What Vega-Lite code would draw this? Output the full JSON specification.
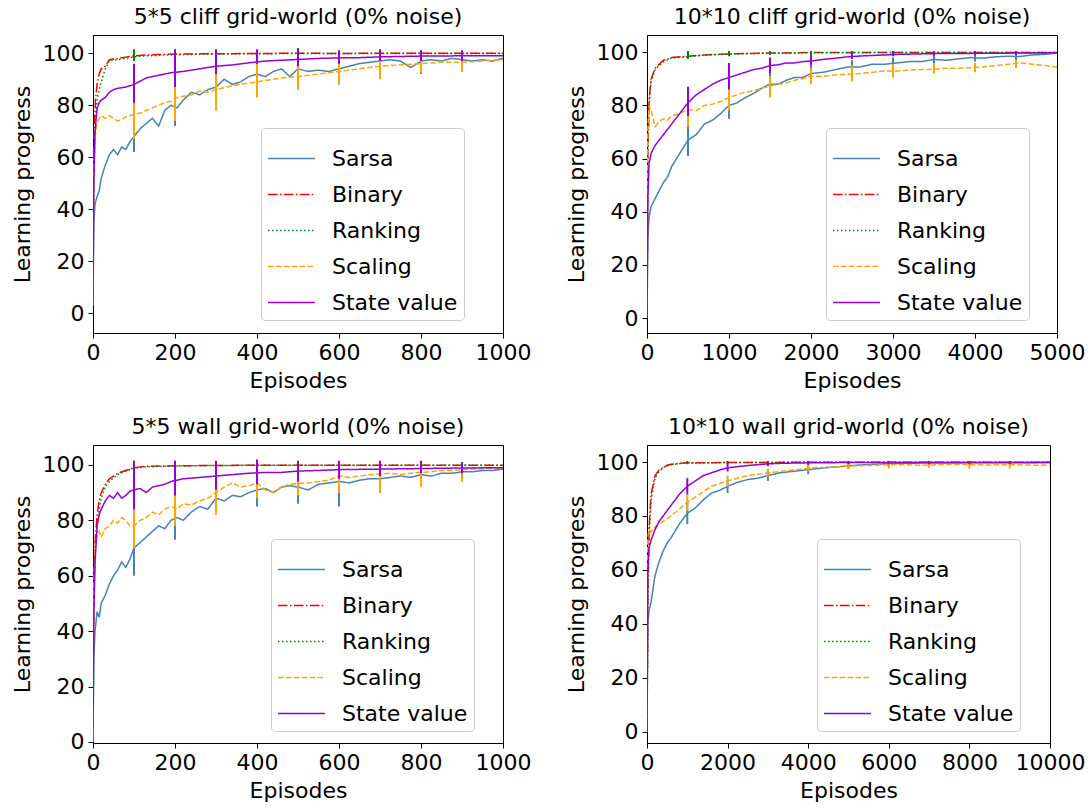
{
"$schema": "https://vega.github.io/schema/vega-lite/v6.json",
"padding": {"left": 10, "top": 5, "right": 5, "bottom": 5},
"config": {
  "font": "DejaVu Sans",
  "view": {"stroke": "black", "strokeWidth": 1},
  "axis": {"grid": false, "labelFontSize": 22, "titleFontSize": 22, "titleFontWeight": "normal", "labelColor": "black", "titleColor": "black", "tickColor": "black", "domainColor": "black", "tickSize": 5, "labelPadding": 4, "labelFlush": false, "labelOverlap": false, "labelFont": "DejaVu Sans", "titleFont": "DejaVu Sans"},
  "axisX": {"titlePadding": 7, "labelPadding": 4},
  "axisY": {"titlePadding": 8},
  "legend": {"symbolType": "stroke", "symbolSize": 2209, "symbolStrokeWidth": 1.5, "labelFontSize": 22, "labelFont": "DejaVu Sans", "labelColor": "black", "rowPadding": 0, "padding": 6, "fillColor": "rgba(255,255,255,0.8)", "strokeColor": "#cccccc", "cornerRadius": 4, "labelOffset": 16},
  "title": {"fontSize": 22, "fontWeight": "normal", "font": "DejaVu Sans", "color": "black", "offset": 6}
},
"datasets": {
"a": [
{"s":"Sarsa","x":0,"y":3},{"s":"Sarsa","x":2,"y":35},{"s":"Sarsa","x":5,"y":42},{"s":"Sarsa","x":10,"y":45},{"s":"Sarsa","x":15,"y":47},{"s":"Sarsa","x":20,"y":52},{"s":"Sarsa","x":30,"y":57},{"s":"Sarsa","x":40,"y":61},{"s":"Sarsa","x":50,"y":63},{"s":"Sarsa","x":60,"y":61},{"s":"Sarsa","x":70,"y":64},{"s":"Sarsa","x":80,"y":63},{"s":"Sarsa","x":90,"y":66},{"s":"Sarsa","x":100,"y":68},{"s":"Sarsa","x":115,"y":71},{"s":"Sarsa","x":130,"y":73},{"s":"Sarsa","x":145,"y":75},{"s":"Sarsa","x":160,"y":72},{"s":"Sarsa","x":175,"y":78},{"s":"Sarsa","x":190,"y":80},{"s":"Sarsa","x":205,"y":79},{"s":"Sarsa","x":220,"y":82},{"s":"Sarsa","x":240,"y":85},{"s":"Sarsa","x":260,"y":84},{"s":"Sarsa","x":280,"y":86},{"s":"Sarsa","x":300,"y":87},{"s":"Sarsa","x":320,"y":90},{"s":"Sarsa","x":340,"y":88},{"s":"Sarsa","x":360,"y":89},{"s":"Sarsa","x":380,"y":91},{"s":"Sarsa","x":400,"y":92},{"s":"Sarsa","x":420,"y":91},{"s":"Sarsa","x":440,"y":93},{"s":"Sarsa","x":460,"y":94},{"s":"Sarsa","x":480,"y":91},{"s":"Sarsa","x":500,"y":94},{"s":"Sarsa","x":525,"y":93},{"s":"Sarsa","x":550,"y":93.5},{"s":"Sarsa","x":575,"y":93},{"s":"Sarsa","x":600,"y":94},{"s":"Sarsa","x":625,"y":95},{"s":"Sarsa","x":650,"y":96},{"s":"Sarsa","x":675,"y":96.5},{"s":"Sarsa","x":700,"y":97},{"s":"Sarsa","x":725,"y":97.5},{"s":"Sarsa","x":750,"y":97},{"s":"Sarsa","x":775,"y":94.5},{"s":"Sarsa","x":800,"y":97},{"s":"Sarsa","x":825,"y":97.5},{"s":"Sarsa","x":850,"y":97},{"s":"Sarsa","x":875,"y":98},{"s":"Sarsa","x":900,"y":97.5},{"s":"Sarsa","x":925,"y":97},{"s":"Sarsa","x":950,"y":97.5},{"s":"Sarsa","x":975,"y":97},{"s":"Sarsa","x":1000,"y":98},
{"s":"Binary","x":0,"y":30},{"s":"Binary","x":3,"y":70},{"s":"Binary","x":6,"y":82},{"s":"Binary","x":10,"y":88},{"s":"Binary","x":15,"y":92},{"s":"Binary","x":20,"y":94},{"s":"Binary","x":30,"y":95},{"s":"Binary","x":40,"y":97.5},{"s":"Binary","x":60,"y":98},{"s":"Binary","x":80,"y":98.5},{"s":"Binary","x":100,"y":99},{"s":"Binary","x":130,"y":99.3},{"s":"Binary","x":160,"y":99.5},{"s":"Binary","x":200,"y":99.7},{"s":"Binary","x":300,"y":99.8},{"s":"Binary","x":400,"y":99.9},{"s":"Binary","x":500,"y":100},{"s":"Binary","x":600,"y":99.9},{"s":"Binary","x":700,"y":100},{"s":"Binary","x":800,"y":100},{"s":"Binary","x":900,"y":100},{"s":"Binary","x":1000,"y":100},
{"s":"Ranking","x":0,"y":25},{"s":"Ranking","x":3,"y":60},{"s":"Ranking","x":6,"y":75},{"s":"Ranking","x":10,"y":82},{"s":"Ranking","x":15,"y":86},{"s":"Ranking","x":20,"y":89},{"s":"Ranking","x":30,"y":94},{"s":"Ranking","x":40,"y":97.3},{"s":"Ranking","x":60,"y":97.5},{"s":"Ranking","x":80,"y":98},{"s":"Ranking","x":100,"y":98.6},{"s":"Ranking","x":130,"y":99},{"s":"Ranking","x":160,"y":99.2},{"s":"Ranking","x":200,"y":99.4},{"s":"Ranking","x":300,"y":99.7},{"s":"Ranking","x":400,"y":99.8},{"s":"Ranking","x":500,"y":99.9},{"s":"Ranking","x":700,"y":99.9},{"s":"Ranking","x":1000,"y":99.9},
{"s":"Scaling","x":0,"y":10},{"s":"Scaling","x":2,"y":55},{"s":"Scaling","x":5,"y":68},{"s":"Scaling","x":10,"y":73},{"s":"Scaling","x":15,"y":75},{"s":"Scaling","x":20,"y":76},{"s":"Scaling","x":30,"y":75},{"s":"Scaling","x":40,"y":76},{"s":"Scaling","x":50,"y":75},{"s":"Scaling","x":60,"y":74},{"s":"Scaling","x":70,"y":74.5},{"s":"Scaling","x":80,"y":75.5},{"s":"Scaling","x":90,"y":76},{"s":"Scaling","x":100,"y":76.5},{"s":"Scaling","x":115,"y":77},{"s":"Scaling","x":130,"y":78},{"s":"Scaling","x":145,"y":79},{"s":"Scaling","x":160,"y":80},{"s":"Scaling","x":175,"y":81},{"s":"Scaling","x":190,"y":81.5},{"s":"Scaling","x":205,"y":83},{"s":"Scaling","x":220,"y":83.5},{"s":"Scaling","x":240,"y":84},{"s":"Scaling","x":260,"y":85.5},{"s":"Scaling","x":280,"y":85},{"s":"Scaling","x":300,"y":86},{"s":"Scaling","x":340,"y":87.5},{"s":"Scaling","x":380,"y":88.5},{"s":"Scaling","x":420,"y":89.5},{"s":"Scaling","x":460,"y":90.5},{"s":"Scaling","x":500,"y":91},{"s":"Scaling","x":550,"y":92},{"s":"Scaling","x":600,"y":93},{"s":"Scaling","x":650,"y":94},{"s":"Scaling","x":700,"y":95},{"s":"Scaling","x":750,"y":95.5},{"s":"Scaling","x":800,"y":96},{"s":"Scaling","x":850,"y":96.5},{"s":"Scaling","x":900,"y":96.5},{"s":"Scaling","x":950,"y":97},{"s":"Scaling","x":1000,"y":97.5},
{"s":"State value","x":0,"y":5},{"s":"State value","x":2,"y":50},{"s":"State value","x":5,"y":70},{"s":"State value","x":10,"y":79},{"s":"State value","x":15,"y":81},{"s":"State value","x":20,"y":82},{"s":"State value","x":30,"y":83},{"s":"State value","x":40,"y":85},{"s":"State value","x":50,"y":86},{"s":"State value","x":60,"y":86.5},{"s":"State value","x":80,"y":87},{"s":"State value","x":100,"y":88},{"s":"State value","x":130,"y":90.5},{"s":"State value","x":160,"y":91.5},{"s":"State value","x":190,"y":92.5},{"s":"State value","x":220,"y":93},{"s":"State value","x":260,"y":94},{"s":"State value","x":300,"y":95},{"s":"State value","x":340,"y":95.5},{"s":"State value","x":380,"y":96.3},{"s":"State value","x":420,"y":97},{"s":"State value","x":460,"y":97.3},{"s":"State value","x":500,"y":97.6},{"s":"State value","x":550,"y":98},{"s":"State value","x":600,"y":98.2},{"s":"State value","x":650,"y":98.3},{"s":"State value","x":700,"y":98.6},{"s":"State value","x":800,"y":98.9},{"s":"State value","x":900,"y":99},{"s":"State value","x":1000,"y":99}
],
"ea": [
{"s":"Sarsa","x":100,"lo":62,"hi":76},{"s":"Sarsa","x":200,"lo":72,"hi":88},{"s":"Sarsa","x":300,"lo":80,"hi":94},{"s":"Sarsa","x":400,"lo":84,"hi":98},{"s":"Sarsa","x":500,"lo":88,"hi":99},{"s":"Sarsa","x":600,"lo":88,"hi":99},{"s":"Sarsa","x":700,"lo":92,"hi":100},{"s":"Sarsa","x":800,"lo":92,"hi":101},{"s":"Sarsa","x":900,"lo":93,"hi":100},
{"s":"Binary","x":100,"lo":98,"hi":100},{"s":"Binary","x":200,"lo":99,"hi":100.5},{"s":"Binary","x":300,"lo":99,"hi":100.5},{"s":"Binary","x":400,"lo":99,"hi":100.5},{"s":"Binary","x":500,"lo":99,"hi":100.5},{"s":"Binary","x":600,"lo":99,"hi":100.5},{"s":"Binary","x":700,"lo":99,"hi":100.5},{"s":"Binary","x":800,"lo":99,"hi":100.5},{"s":"Binary","x":900,"lo":99,"hi":100.5},
{"s":"Ranking","x":100,"lo":97,"hi":101.5},{"s":"Ranking","x":200,"lo":98,"hi":101},{"s":"Ranking","x":300,"lo":98.5,"hi":101},{"s":"Ranking","x":400,"lo":98.5,"hi":101},{"s":"Ranking","x":500,"lo":98.5,"hi":102},{"s":"Ranking","x":600,"lo":99,"hi":101},{"s":"Ranking","x":700,"lo":99,"hi":101},{"s":"Ranking","x":800,"lo":99,"hi":101},{"s":"Ranking","x":900,"lo":99,"hi":101},
{"s":"Scaling","x":100,"lo":67,"hi":82},{"s":"Scaling","x":200,"lo":74,"hi":87},{"s":"Scaling","x":300,"lo":78,"hi":92},{"s":"Scaling","x":400,"lo":83,"hi":96},{"s":"Scaling","x":500,"lo":86,"hi":96},{"s":"Scaling","x":600,"lo":88,"hi":98},{"s":"Scaling","x":700,"lo":90,"hi":99},{"s":"Scaling","x":800,"lo":92.5,"hi":99.5},{"s":"Scaling","x":900,"lo":93,"hi":100},
{"s":"State value","x":100,"lo":81,"hi":96},{"s":"State value","x":200,"lo":87,"hi":101.5},{"s":"State value","x":300,"lo":92,"hi":101.5},{"s":"State value","x":400,"lo":96,"hi":101.5},{"s":"State value","x":500,"lo":95,"hi":101.5},{"s":"State value","x":600,"lo":96,"hi":101},{"s":"State value","x":700,"lo":97,"hi":101.5},{"s":"State value","x":800,"lo":97,"hi":101},{"s":"State value","x":900,"lo":97,"hi":101}
],
"b": [
{"s":"Sarsa","x":0,"y":0},{"s":"Sarsa","x":10,"y":30},{"s":"Sarsa","x":25,"y":38},{"s":"Sarsa","x":50,"y":42},{"s":"Sarsa","x":100,"y":45},{"s":"Sarsa","x":150,"y":48},{"s":"Sarsa","x":200,"y":51},{"s":"Sarsa","x":250,"y":53},{"s":"Sarsa","x":300,"y":57},{"s":"Sarsa","x":400,"y":62},{"s":"Sarsa","x":500,"y":67},{"s":"Sarsa","x":600,"y":69},{"s":"Sarsa","x":700,"y":73},{"s":"Sarsa","x":800,"y":74.5},{"s":"Sarsa","x":900,"y":77},{"s":"Sarsa","x":1000,"y":80},{"s":"Sarsa","x":1100,"y":81},{"s":"Sarsa","x":1200,"y":83},{"s":"Sarsa","x":1300,"y":84.5},{"s":"Sarsa","x":1400,"y":86.5},{"s":"Sarsa","x":1500,"y":88},{"s":"Sarsa","x":1600,"y":88},{"s":"Sarsa","x":1700,"y":89.5},{"s":"Sarsa","x":1800,"y":90.5},{"s":"Sarsa","x":1900,"y":90.5},{"s":"Sarsa","x":2000,"y":92},{"s":"Sarsa","x":2150,"y":92.5},{"s":"Sarsa","x":2300,"y":93.5},{"s":"Sarsa","x":2450,"y":94.5},{"s":"Sarsa","x":2600,"y":94.5},{"s":"Sarsa","x":2750,"y":95.5},{"s":"Sarsa","x":2900,"y":95.5},{"s":"Sarsa","x":3050,"y":96},{"s":"Sarsa","x":3200,"y":96.5},{"s":"Sarsa","x":3350,"y":96.5},{"s":"Sarsa","x":3500,"y":97.3},{"s":"Sarsa","x":3650,"y":97},{"s":"Sarsa","x":3800,"y":97.5},{"s":"Sarsa","x":3950,"y":98},{"s":"Sarsa","x":4100,"y":97.8},{"s":"Sarsa","x":4250,"y":98.3},{"s":"Sarsa","x":4400,"y":98.5},{"s":"Sarsa","x":4550,"y":98.4},{"s":"Sarsa","x":4700,"y":99},{"s":"Sarsa","x":4850,"y":99.2},{"s":"Sarsa","x":5000,"y":99.7},
{"s":"Binary","x":0,"y":0},{"s":"Binary","x":10,"y":60},{"s":"Binary","x":25,"y":82},{"s":"Binary","x":50,"y":90},{"s":"Binary","x":100,"y":94},{"s":"Binary","x":200,"y":97},{"s":"Binary","x":300,"y":98},{"s":"Binary","x":500,"y":98.5},{"s":"Binary","x":700,"y":99},{"s":"Binary","x":1000,"y":99.4},{"s":"Binary","x":1500,"y":99.7},{"s":"Binary","x":2000,"y":99.9},{"s":"Binary","x":3000,"y":99.9},{"s":"Binary","x":4000,"y":99.9},{"s":"Binary","x":5000,"y":99.9},
{"s":"Ranking","x":0,"y":0},{"s":"Ranking","x":10,"y":58},{"s":"Ranking","x":25,"y":80},{"s":"Ranking","x":50,"y":89},{"s":"Ranking","x":100,"y":93.5},{"s":"Ranking","x":200,"y":96.5},{"s":"Ranking","x":300,"y":97.8},{"s":"Ranking","x":500,"y":98.3},{"s":"Ranking","x":700,"y":98.9},{"s":"Ranking","x":1000,"y":99.3},{"s":"Ranking","x":1500,"y":99.7},{"s":"Ranking","x":2000,"y":99.8},{"s":"Ranking","x":3000,"y":99.9},{"s":"Ranking","x":4000,"y":99.9},{"s":"Ranking","x":5000,"y":99.9},
{"s":"Scaling","x":0,"y":5},{"s":"Scaling","x":10,"y":70},{"s":"Scaling","x":25,"y":80},{"s":"Scaling","x":50,"y":78},{"s":"Scaling","x":100,"y":72},{"s":"Scaling","x":150,"y":74},{"s":"Scaling","x":200,"y":75},{"s":"Scaling","x":250,"y":74.5},{"s":"Scaling","x":300,"y":76},{"s":"Scaling","x":400,"y":77},{"s":"Scaling","x":500,"y":78.5},{"s":"Scaling","x":600,"y":78},{"s":"Scaling","x":700,"y":80},{"s":"Scaling","x":800,"y":80.5},{"s":"Scaling","x":900,"y":81.5},{"s":"Scaling","x":1000,"y":83},{"s":"Scaling","x":1100,"y":84},{"s":"Scaling","x":1200,"y":85},{"s":"Scaling","x":1300,"y":85.5},{"s":"Scaling","x":1400,"y":86.5},{"s":"Scaling","x":1500,"y":87.3},{"s":"Scaling","x":1600,"y":88},{"s":"Scaling","x":1700,"y":88.5},{"s":"Scaling","x":1800,"y":89.5},{"s":"Scaling","x":1900,"y":90},{"s":"Scaling","x":2000,"y":91},{"s":"Scaling","x":2150,"y":91},{"s":"Scaling","x":2300,"y":91.5},{"s":"Scaling","x":2450,"y":91.7},{"s":"Scaling","x":2600,"y":92},{"s":"Scaling","x":2750,"y":92.5},{"s":"Scaling","x":2900,"y":93},{"s":"Scaling","x":3050,"y":93},{"s":"Scaling","x":3200,"y":93.3},{"s":"Scaling","x":3350,"y":93.5},{"s":"Scaling","x":3500,"y":93.6},{"s":"Scaling","x":3650,"y":94},{"s":"Scaling","x":3800,"y":94},{"s":"Scaling","x":3950,"y":94.2},{"s":"Scaling","x":4100,"y":94.5},{"s":"Scaling","x":4250,"y":95},{"s":"Scaling","x":4400,"y":95.5},{"s":"Scaling","x":4550,"y":96},{"s":"Scaling","x":4700,"y":95.5},{"s":"Scaling","x":4850,"y":95},{"s":"Scaling","x":5000,"y":94.5},
{"s":"State value","x":0,"y":0},{"s":"State value","x":10,"y":45},{"s":"State value","x":25,"y":58},{"s":"State value","x":50,"y":62},{"s":"State value","x":100,"y":65},{"s":"State value","x":150,"y":67},{"s":"State value","x":200,"y":69},{"s":"State value","x":250,"y":71},{"s":"State value","x":300,"y":73},{"s":"State value","x":400,"y":77},{"s":"State value","x":500,"y":81},{"s":"State value","x":600,"y":84},{"s":"State value","x":700,"y":86},{"s":"State value","x":800,"y":88},{"s":"State value","x":900,"y":89.5},{"s":"State value","x":1000,"y":90.5},{"s":"State value","x":1100,"y":91.5},{"s":"State value","x":1200,"y":92.5},{"s":"State value","x":1300,"y":93.5},{"s":"State value","x":1400,"y":94},{"s":"State value","x":1500,"y":95},{"s":"State value","x":1600,"y":95.3},{"s":"State value","x":1700,"y":96},{"s":"State value","x":1800,"y":96},{"s":"State value","x":1900,"y":96.5},{"s":"State value","x":2000,"y":96.7},{"s":"State value","x":2150,"y":97.3},{"s":"State value","x":2300,"y":97.8},{"s":"State value","x":2450,"y":98.3},{"s":"State value","x":2600,"y":98.6},{"s":"State value","x":2750,"y":98.8},{"s":"State value","x":2900,"y":99},{"s":"State value","x":3050,"y":99.2},{"s":"State value","x":3200,"y":99.3},{"s":"State value","x":3500,"y":99.5},{"s":"State value","x":4000,"y":99.6},{"s":"State value","x":4500,"y":99.7},{"s":"State value","x":5000,"y":99.8}
],
"eb": [
{"s":"Sarsa","x":500,"lo":61,"hi":74},{"s":"Sarsa","x":1000,"lo":75,"hi":86},{"s":"Sarsa","x":1500,"lo":84,"hi":92},{"s":"Sarsa","x":2000,"lo":89,"hi":95},{"s":"Sarsa","x":2500,"lo":92,"hi":97},{"s":"Sarsa","x":3000,"lo":94,"hi":98},{"s":"Sarsa","x":3500,"lo":95.5,"hi":99},{"s":"Sarsa","x":4000,"lo":96.5,"hi":99.5},{"s":"Sarsa","x":4500,"lo":97,"hi":100},
{"s":"Binary","x":500,"lo":98,"hi":100.5},{"s":"Binary","x":1000,"lo":99,"hi":100.5},{"s":"Binary","x":1500,"lo":99,"hi":100.5},{"s":"Binary","x":2000,"lo":99,"hi":100.5},{"s":"Binary","x":2500,"lo":99,"hi":100.5},{"s":"Binary","x":3000,"lo":99,"hi":100.5},{"s":"Binary","x":3500,"lo":99,"hi":100.5},{"s":"Binary","x":4000,"lo":99,"hi":100.5},{"s":"Binary","x":4500,"lo":99,"hi":100.5},
{"s":"Ranking","x":500,"lo":97.5,"hi":100.5},{"s":"Ranking","x":1000,"lo":98.5,"hi":100.5},{"s":"Ranking","x":1500,"lo":99,"hi":100.5},{"s":"Ranking","x":2000,"lo":99.2,"hi":100.4},{"s":"Ranking","x":2500,"lo":99.2,"hi":100.4},{"s":"Ranking","x":3000,"lo":99.2,"hi":100.4},{"s":"Ranking","x":3500,"lo":99.2,"hi":100.4},{"s":"Ranking","x":4000,"lo":99.2,"hi":100.4},{"s":"Ranking","x":4500,"lo":99.2,"hi":100.4},
{"s":"Scaling","x":500,"lo":72,"hi":84},{"s":"Scaling","x":1000,"lo":78,"hi":88},{"s":"Scaling","x":1500,"lo":83,"hi":91},{"s":"Scaling","x":2000,"lo":88,"hi":94},{"s":"Scaling","x":2500,"lo":89,"hi":95},{"s":"Scaling","x":3000,"lo":90.5,"hi":95.5},{"s":"Scaling","x":3500,"lo":92,"hi":96},{"s":"Scaling","x":4000,"lo":92.5,"hi":96},{"s":"Scaling","x":4500,"lo":94,"hi":97},
{"s":"State value","x":500,"lo":76,"hi":87},{"s":"State value","x":1000,"lo":86,"hi":96},{"s":"State value","x":1500,"lo":92,"hi":98},{"s":"State value","x":2000,"lo":95,"hi":99},{"s":"State value","x":2500,"lo":97.5,"hi":100},{"s":"State value","x":3000,"lo":98.5,"hi":100.5},{"s":"State value","x":3500,"lo":98.8,"hi":100.3},{"s":"State value","x":4000,"lo":99,"hi":100.3},{"s":"State value","x":4500,"lo":99,"hi":100.3}
],
"c": [
{"s":"Sarsa","x":0,"y":0},{"s":"Sarsa","x":2,"y":30},{"s":"Sarsa","x":5,"y":40},{"s":"Sarsa","x":10,"y":47},{"s":"Sarsa","x":15,"y":45},{"s":"Sarsa","x":20,"y":50},{"s":"Sarsa","x":30,"y":53},{"s":"Sarsa","x":40,"y":57},{"s":"Sarsa","x":50,"y":60},{"s":"Sarsa","x":60,"y":62},{"s":"Sarsa","x":70,"y":65},{"s":"Sarsa","x":80,"y":63},{"s":"Sarsa","x":90,"y":66},{"s":"Sarsa","x":100,"y":70},{"s":"Sarsa","x":115,"y":72},{"s":"Sarsa","x":130,"y":74},{"s":"Sarsa","x":145,"y":76},{"s":"Sarsa","x":160,"y":78},{"s":"Sarsa","x":175,"y":77},{"s":"Sarsa","x":190,"y":80},{"s":"Sarsa","x":205,"y":81},{"s":"Sarsa","x":220,"y":80},{"s":"Sarsa","x":240,"y":83},{"s":"Sarsa","x":260,"y":85},{"s":"Sarsa","x":280,"y":84},{"s":"Sarsa","x":300,"y":88},{"s":"Sarsa","x":320,"y":87},{"s":"Sarsa","x":340,"y":89},{"s":"Sarsa","x":360,"y":88.5},{"s":"Sarsa","x":380,"y":90},{"s":"Sarsa","x":400,"y":91},{"s":"Sarsa","x":420,"y":91.5},{"s":"Sarsa","x":440,"y":90},{"s":"Sarsa","x":460,"y":92},{"s":"Sarsa","x":480,"y":92.5},{"s":"Sarsa","x":500,"y":92},{"s":"Sarsa","x":525,"y":91},{"s":"Sarsa","x":550,"y":93},{"s":"Sarsa","x":575,"y":93.5},{"s":"Sarsa","x":600,"y":94},{"s":"Sarsa","x":625,"y":93.5},{"s":"Sarsa","x":650,"y":94.5},{"s":"Sarsa","x":675,"y":95},{"s":"Sarsa","x":700,"y":95},{"s":"Sarsa","x":725,"y":95.5},{"s":"Sarsa","x":750,"y":96},{"s":"Sarsa","x":775,"y":95.5},{"s":"Sarsa","x":800,"y":96.5},{"s":"Sarsa","x":825,"y":96},{"s":"Sarsa","x":850,"y":97},{"s":"Sarsa","x":875,"y":97},{"s":"Sarsa","x":900,"y":97.5},{"s":"Sarsa","x":925,"y":97.5},{"s":"Sarsa","x":950,"y":98},{"s":"Sarsa","x":975,"y":98},{"s":"Sarsa","x":1000,"y":98.5},
{"s":"Binary","x":0,"y":20},{"s":"Binary","x":2,"y":55},{"s":"Binary","x":5,"y":72},{"s":"Binary","x":10,"y":82},{"s":"Binary","x":15,"y":87},{"s":"Binary","x":20,"y":90},{"s":"Binary","x":30,"y":93},{"s":"Binary","x":40,"y":95},{"s":"Binary","x":60,"y":97},{"s":"Binary","x":80,"y":98},{"s":"Binary","x":100,"y":99},{"s":"Binary","x":130,"y":99.5},{"s":"Binary","x":200,"y":99.7},{"s":"Binary","x":300,"y":99.8},{"s":"Binary","x":400,"y":99.9},{"s":"Binary","x":600,"y":99.9},{"s":"Binary","x":800,"y":99.9},{"s":"Binary","x":1000,"y":99.9},
{"s":"Ranking","x":0,"y":15},{"s":"Ranking","x":2,"y":50},{"s":"Ranking","x":5,"y":68},{"s":"Ranking","x":10,"y":78},{"s":"Ranking","x":15,"y":84},{"s":"Ranking","x":20,"y":88},{"s":"Ranking","x":30,"y":92},{"s":"Ranking","x":40,"y":94},{"s":"Ranking","x":60,"y":96.5},{"s":"Ranking","x":80,"y":97.8},{"s":"Ranking","x":100,"y":98.8},{"s":"Ranking","x":130,"y":99.3},{"s":"Ranking","x":200,"y":99.6},{"s":"Ranking","x":300,"y":99.8},{"s":"Ranking","x":400,"y":99.9},{"s":"Ranking","x":600,"y":99.9},{"s":"Ranking","x":800,"y":99.9},{"s":"Ranking","x":1000,"y":99.9},
{"s":"Scaling","x":0,"y":10},{"s":"Scaling","x":2,"y":55},{"s":"Scaling","x":5,"y":70},{"s":"Scaling","x":10,"y":75},{"s":"Scaling","x":15,"y":76},{"s":"Scaling","x":20,"y":74},{"s":"Scaling","x":30,"y":77},{"s":"Scaling","x":40,"y":78},{"s":"Scaling","x":50,"y":80},{"s":"Scaling","x":60,"y":79},{"s":"Scaling","x":70,"y":81},{"s":"Scaling","x":80,"y":80},{"s":"Scaling","x":90,"y":78},{"s":"Scaling","x":100,"y":78},{"s":"Scaling","x":115,"y":80},{"s":"Scaling","x":130,"y":81},{"s":"Scaling","x":145,"y":83},{"s":"Scaling","x":160,"y":82},{"s":"Scaling","x":175,"y":84},{"s":"Scaling","x":190,"y":85},{"s":"Scaling","x":205,"y":84},{"s":"Scaling","x":220,"y":86},{"s":"Scaling","x":240,"y":85.5},{"s":"Scaling","x":260,"y":87},{"s":"Scaling","x":280,"y":88},{"s":"Scaling","x":300,"y":90},{"s":"Scaling","x":320,"y":92},{"s":"Scaling","x":340,"y":93.5},{"s":"Scaling","x":360,"y":92},{"s":"Scaling","x":380,"y":92.5},{"s":"Scaling","x":400,"y":93.5},{"s":"Scaling","x":420,"y":91},{"s":"Scaling","x":440,"y":90},{"s":"Scaling","x":460,"y":92},{"s":"Scaling","x":480,"y":93},{"s":"Scaling","x":500,"y":93.3},{"s":"Scaling","x":525,"y":93.5},{"s":"Scaling","x":550,"y":94},{"s":"Scaling","x":575,"y":94.5},{"s":"Scaling","x":600,"y":96},{"s":"Scaling","x":625,"y":95.5},{"s":"Scaling","x":650,"y":96},{"s":"Scaling","x":675,"y":96.5},{"s":"Scaling","x":700,"y":96.7},{"s":"Scaling","x":725,"y":97},{"s":"Scaling","x":750,"y":96.5},{"s":"Scaling","x":775,"y":97},{"s":"Scaling","x":800,"y":97.3},{"s":"Scaling","x":825,"y":97.5},{"s":"Scaling","x":850,"y":98},{"s":"Scaling","x":875,"y":98},{"s":"Scaling","x":900,"y":98.3},{"s":"Scaling","x":925,"y":98.5},{"s":"Scaling","x":950,"y":98.5},{"s":"Scaling","x":975,"y":98.8},{"s":"Scaling","x":1000,"y":99},
{"s":"State value","x":0,"y":5},{"s":"State value","x":2,"y":45},{"s":"State value","x":5,"y":65},{"s":"State value","x":10,"y":78},{"s":"State value","x":15,"y":82},{"s":"State value","x":20,"y":84},{"s":"State value","x":30,"y":87},{"s":"State value","x":40,"y":89},{"s":"State value","x":50,"y":88},{"s":"State value","x":60,"y":90},{"s":"State value","x":70,"y":88},{"s":"State value","x":80,"y":89},{"s":"State value","x":90,"y":90.5},{"s":"State value","x":100,"y":91},{"s":"State value","x":115,"y":91.5},{"s":"State value","x":130,"y":90},{"s":"State value","x":145,"y":92},{"s":"State value","x":160,"y":92.5},{"s":"State value","x":175,"y":93},{"s":"State value","x":190,"y":94},{"s":"State value","x":220,"y":95},{"s":"State value","x":260,"y":95.5},{"s":"State value","x":300,"y":96},{"s":"State value","x":340,"y":96.5},{"s":"State value","x":380,"y":97},{"s":"State value","x":420,"y":97.3},{"s":"State value","x":460,"y":97.3},{"s":"State value","x":500,"y":97.8},{"s":"State value","x":550,"y":98},{"s":"State value","x":600,"y":98.3},{"s":"State value","x":700,"y":98.5},{"s":"State value","x":800,"y":98.7},{"s":"State value","x":900,"y":98.9},{"s":"State value","x":1000,"y":99}
],
"ec": [
{"s":"Sarsa","x":100,"lo":60,"hi":78},{"s":"Sarsa","x":200,"lo":73,"hi":88},{"s":"Sarsa","x":300,"lo":82,"hi":94},{"s":"Sarsa","x":400,"lo":85,"hi":97},{"s":"Sarsa","x":500,"lo":86,"hi":98},{"s":"Sarsa","x":600,"lo":85,"hi":99},{"s":"Sarsa","x":700,"lo":90,"hi":99},{"s":"Sarsa","x":800,"lo":92,"hi":100},{"s":"Sarsa","x":900,"lo":94,"hi":100},
{"s":"Binary","x":100,"lo":98,"hi":100.5},{"s":"Binary","x":200,"lo":99,"hi":100.5},{"s":"Binary","x":300,"lo":99,"hi":100.5},{"s":"Binary","x":400,"lo":99,"hi":100.5},{"s":"Binary","x":500,"lo":99,"hi":100.5},{"s":"Binary","x":600,"lo":99,"hi":100.5},{"s":"Binary","x":700,"lo":99,"hi":100.5},{"s":"Binary","x":800,"lo":99,"hi":100.5},{"s":"Binary","x":900,"lo":99,"hi":100.5},
{"s":"Ranking","x":100,"lo":97,"hi":101.5},{"s":"Ranking","x":200,"lo":98,"hi":101.5},{"s":"Ranking","x":300,"lo":99,"hi":101},{"s":"Ranking","x":400,"lo":99,"hi":101},{"s":"Ranking","x":500,"lo":99,"hi":101},{"s":"Ranking","x":600,"lo":99,"hi":101},{"s":"Ranking","x":700,"lo":99,"hi":101},{"s":"Ranking","x":800,"lo":99,"hi":101},{"s":"Ranking","x":900,"lo":99,"hi":101},
{"s":"Scaling","x":100,"lo":70,"hi":85},{"s":"Scaling","x":200,"lo":78,"hi":90},{"s":"Scaling","x":300,"lo":82,"hi":94},{"s":"Scaling","x":400,"lo":88,"hi":98},{"s":"Scaling","x":500,"lo":89,"hi":98},{"s":"Scaling","x":600,"lo":90,"hi":99},{"s":"Scaling","x":700,"lo":90,"hi":101},{"s":"Scaling","x":800,"lo":92,"hi":101},{"s":"Scaling","x":900,"lo":94,"hi":100.5},
{"s":"State value","x":100,"lo":84,"hi":101.5},{"s":"State value","x":200,"lo":89,"hi":101.5},{"s":"State value","x":300,"lo":91,"hi":101.5},{"s":"State value","x":400,"lo":93,"hi":102},{"s":"State value","x":500,"lo":94,"hi":101.5},{"s":"State value","x":600,"lo":95,"hi":101.5},{"s":"State value","x":700,"lo":96,"hi":101.5},{"s":"State value","x":800,"lo":97,"hi":101.5},{"s":"State value","x":900,"lo":97,"hi":101}
],
"d": [
{"s":"Sarsa","x":0,"y":0},{"s":"Sarsa","x":20,"y":40},{"s":"Sarsa","x":50,"y":45},{"s":"Sarsa","x":100,"y":48},{"s":"Sarsa","x":200,"y":58},{"s":"Sarsa","x":300,"y":63},{"s":"Sarsa","x":400,"y":67},{"s":"Sarsa","x":500,"y":70},{"s":"Sarsa","x":600,"y":72},{"s":"Sarsa","x":800,"y":77},{"s":"Sarsa","x":1000,"y":81},{"s":"Sarsa","x":1200,"y":83},{"s":"Sarsa","x":1400,"y":86},{"s":"Sarsa","x":1600,"y":88.5},{"s":"Sarsa","x":1800,"y":89.5},{"s":"Sarsa","x":2000,"y":91},{"s":"Sarsa","x":2250,"y":92.5},{"s":"Sarsa","x":2500,"y":93.5},{"s":"Sarsa","x":2750,"y":94},{"s":"Sarsa","x":3000,"y":95},{"s":"Sarsa","x":3300,"y":96},{"s":"Sarsa","x":3600,"y":96.5},{"s":"Sarsa","x":3900,"y":97},{"s":"Sarsa","x":4200,"y":97.5},{"s":"Sarsa","x":4500,"y":98},{"s":"Sarsa","x":4800,"y":98.3},{"s":"Sarsa","x":5100,"y":98.7},{"s":"Sarsa","x":5400,"y":99},{"s":"Sarsa","x":5700,"y":99.2},{"s":"Sarsa","x":6000,"y":99.4},{"s":"Sarsa","x":6400,"y":99.5},{"s":"Sarsa","x":6800,"y":99.6},{"s":"Sarsa","x":7200,"y":99.6},{"s":"Sarsa","x":8000,"y":99.7},{"s":"Sarsa","x":9000,"y":99.7},{"s":"Sarsa","x":10000,"y":99.8},
{"s":"Binary","x":0,"y":0},{"s":"Binary","x":20,"y":50},{"s":"Binary","x":50,"y":75},{"s":"Binary","x":100,"y":88},{"s":"Binary","x":200,"y":95},{"s":"Binary","x":300,"y":97},{"s":"Binary","x":400,"y":98},{"s":"Binary","x":500,"y":98.8},{"s":"Binary","x":600,"y":99.2},{"s":"Binary","x":800,"y":99.5},{"s":"Binary","x":1000,"y":99.7},{"s":"Binary","x":2000,"y":99.8},{"s":"Binary","x":4000,"y":99.9},{"s":"Binary","x":10000,"y":99.9},
{"s":"Ranking","x":0,"y":0},{"s":"Ranking","x":20,"y":45},{"s":"Ranking","x":50,"y":72},{"s":"Ranking","x":100,"y":86},{"s":"Ranking","x":200,"y":94},{"s":"Ranking","x":300,"y":96.5},{"s":"Ranking","x":400,"y":97.8},{"s":"Ranking","x":500,"y":98.6},{"s":"Ranking","x":600,"y":99},{"s":"Ranking","x":800,"y":99.4},{"s":"Ranking","x":1000,"y":99.6},{"s":"Ranking","x":2000,"y":99.8},{"s":"Ranking","x":4000,"y":99.9},{"s":"Ranking","x":10000,"y":99.9},
{"s":"Scaling","x":0,"y":5},{"s":"Scaling","x":20,"y":72},{"s":"Scaling","x":50,"y":75},{"s":"Scaling","x":100,"y":74},{"s":"Scaling","x":200,"y":76},{"s":"Scaling","x":300,"y":77},{"s":"Scaling","x":400,"y":78},{"s":"Scaling","x":500,"y":79},{"s":"Scaling","x":600,"y":80},{"s":"Scaling","x":800,"y":82.5},{"s":"Scaling","x":1000,"y":85},{"s":"Scaling","x":1200,"y":87},{"s":"Scaling","x":1400,"y":89},{"s":"Scaling","x":1600,"y":91},{"s":"Scaling","x":1800,"y":92},{"s":"Scaling","x":2000,"y":93},{"s":"Scaling","x":2250,"y":94},{"s":"Scaling","x":2500,"y":95},{"s":"Scaling","x":2750,"y":95.5},{"s":"Scaling","x":3000,"y":96},{"s":"Scaling","x":3300,"y":96.5},{"s":"Scaling","x":3600,"y":97},{"s":"Scaling","x":3900,"y":97.5},{"s":"Scaling","x":4200,"y":98},{"s":"Scaling","x":4500,"y":98},{"s":"Scaling","x":4800,"y":98.3},{"s":"Scaling","x":5100,"y":98.5},{"s":"Scaling","x":5400,"y":98.7},{"s":"Scaling","x":5700,"y":98.8},{"s":"Scaling","x":6000,"y":99},{"s":"Scaling","x":6400,"y":99},{"s":"Scaling","x":6800,"y":98.8},{"s":"Scaling","x":7200,"y":99},{"s":"Scaling","x":7600,"y":99.1},{"s":"Scaling","x":8000,"y":99},{"s":"Scaling","x":8400,"y":98.9},{"s":"Scaling","x":8800,"y":99},{"s":"Scaling","x":9200,"y":99},{"s":"Scaling","x":9600,"y":98.8},{"s":"Scaling","x":10000,"y":98.9},
{"s":"State value","x":0,"y":0},{"s":"State value","x":20,"y":60},{"s":"State value","x":50,"y":68},{"s":"State value","x":100,"y":71},{"s":"State value","x":200,"y":75},{"s":"State value","x":300,"y":78},{"s":"State value","x":400,"y":80},{"s":"State value","x":500,"y":82},{"s":"State value","x":600,"y":84},{"s":"State value","x":800,"y":88},{"s":"State value","x":1000,"y":91},{"s":"State value","x":1200,"y":93},{"s":"State value","x":1400,"y":95},{"s":"State value","x":1600,"y":96},{"s":"State value","x":1800,"y":97},{"s":"State value","x":2000,"y":97.8},{"s":"State value","x":2250,"y":98.3},{"s":"State value","x":2500,"y":98.7},{"s":"State value","x":2750,"y":99},{"s":"State value","x":3000,"y":99.3},{"s":"State value","x":3300,"y":99.5},{"s":"State value","x":3600,"y":99.6},{"s":"State value","x":4000,"y":99.7},{"s":"State value","x":5000,"y":99.8},{"s":"State value","x":10000,"y":99.8}
],
"ed": [
{"s":"Sarsa","x":1000,"lo":77,"hi":85},{"s":"Sarsa","x":2000,"lo":88.5,"hi":93.5},{"s":"Sarsa","x":3000,"lo":93,"hi":97},{"s":"Sarsa","x":4000,"lo":95.5,"hi":99},{"s":"Sarsa","x":5000,"lo":97.5,"hi":99.8},{"s":"Sarsa","x":6000,"lo":98.5,"hi":100.2},{"s":"Sarsa","x":7000,"lo":99,"hi":100.3},{"s":"Sarsa","x":8000,"lo":99.2,"hi":100.3},{"s":"Sarsa","x":9000,"lo":99.2,"hi":100.3},
{"s":"Binary","x":1000,"lo":99.3,"hi":100.3},{"s":"Binary","x":2000,"lo":99.3,"hi":100.3},{"s":"Binary","x":3000,"lo":99.3,"hi":100.3},{"s":"Binary","x":4000,"lo":99.3,"hi":100.3},{"s":"Binary","x":5000,"lo":99.3,"hi":100.3},{"s":"Binary","x":6000,"lo":99.3,"hi":100.3},{"s":"Binary","x":7000,"lo":99.3,"hi":100.3},{"s":"Binary","x":8000,"lo":99.3,"hi":100.3},{"s":"Binary","x":9000,"lo":99.3,"hi":100.3},
{"s":"Ranking","x":1000,"lo":99.2,"hi":100.3},{"s":"Ranking","x":2000,"lo":99.3,"hi":100.3},{"s":"Ranking","x":3000,"lo":99.3,"hi":100.3},{"s":"Ranking","x":4000,"lo":99.3,"hi":100.3},{"s":"Ranking","x":5000,"lo":99.3,"hi":100.3},{"s":"Ranking","x":6000,"lo":99.3,"hi":100.3},{"s":"Ranking","x":7000,"lo":99.3,"hi":100.3},{"s":"Ranking","x":8000,"lo":99.3,"hi":100.3},{"s":"Ranking","x":9000,"lo":99.3,"hi":100.3},
{"s":"Scaling","x":1000,"lo":82,"hi":88},{"s":"Scaling","x":2000,"lo":91,"hi":95},{"s":"Scaling","x":3000,"lo":94.5,"hi":97.5},{"s":"Scaling","x":4000,"lo":96.5,"hi":99.3},{"s":"Scaling","x":5000,"lo":97.5,"hi":99.5},{"s":"Scaling","x":6000,"lo":97.5,"hi":100},{"s":"Scaling","x":7000,"lo":97.8,"hi":100},{"s":"Scaling","x":8000,"lo":97.5,"hi":100},{"s":"Scaling","x":9000,"lo":97.5,"hi":100},
{"s":"State value","x":1000,"lo":88,"hi":94},{"s":"State value","x":2000,"lo":96.5,"hi":99.5},{"s":"State value","x":3000,"lo":98.5,"hi":100.3},{"s":"State value","x":4000,"lo":99,"hi":100.4},{"s":"State value","x":5000,"lo":99.2,"hi":100.4},{"s":"State value","x":6000,"lo":99.2,"hi":100.4},{"s":"State value","x":7000,"lo":99.2,"hi":100.4},{"s":"State value","x":8000,"lo":99.2,"hi":100.4},{"s":"State value","x":9000,"lo":99.2,"hi":100.4}
]
},
"columns": 2,
"spacing": {"row": 112, "column": 144},
"bounds": "flush",
"resolve": {"scale": {"color": "independent", "strokeDash": "independent"}},
"concat": [
{
 "width": 410, "height": 298,
 "title": "5*5 cliff grid-world (0% noise)",
 "layer": [
  {"data": {"name": "a"},
   "mark": {"type": "line", "strokeWidth": 1.5, "clip": true},
   "encoding": {
    "x": {"field": "x", "type": "quantitative", "scale": {"domain": [0, 1000], "nice": false, "zero": false}, "axis": {"values": [0, 200, 400, 600, 800, 1000], "format": "d", "title": "Episodes"}},
    "y": {"field": "y", "type": "quantitative", "scale": {"domain": [-7.5, 107], "nice": false, "zero": false}, "axis": {"values": [0, 20, 40, 60, 80, 100], "title": "Learning progress"}},
    "color": {"field": "s", "type": "nominal", "scale": {"domain": ["Sarsa", "Binary", "Ranking", "Scaling", "State value"], "range": ["steelblue", "red", "green", "orange", "darkviolet"]}, "legend": {"title": null, "orient": "none", "legendX": 168, "legendY": 93}},
    "strokeDash": {"field": "s", "type": "nominal", "scale": {"domain": ["Sarsa", "Binary", "Ranking", "Scaling", "State value"], "range": [[1, 0], [9.6, 2.4, 1.5, 2.4], [1.5, 2.5], [5.5, 2.4], [1, 0]]}, "legend": {"title": null, "orient": "none", "legendX": 168, "legendY": 93}}
   }},
  {"data": {"name": "ea"},
   "mark": {"type": "rule", "strokeWidth": 2, "clip": true},
   "encoding": {
    "x": {"field": "x", "type": "quantitative"},
    "y": {"field": "lo", "type": "quantitative"},
    "y2": {"field": "hi"},
    "color": {"field": "s", "type": "nominal", "legend": null}
   }}
 ]
},
{
 "width": 410, "height": 298,
 "title": "10*10 cliff grid-world (0% noise)",
 "layer": [
  {"data": {"name": "b"},
   "mark": {"type": "line", "strokeWidth": 1.5, "clip": true},
   "encoding": {
    "x": {"field": "x", "type": "quantitative", "scale": {"domain": [0, 5000], "nice": false, "zero": false}, "axis": {"values": [0, 1000, 2000, 3000, 4000, 5000], "format": "d", "title": "Episodes"}},
    "y": {"field": "y", "type": "quantitative", "scale": {"domain": [-5.6, 106.5], "nice": false, "zero": false}, "axis": {"values": [0, 20, 40, 60, 80, 100], "title": "Learning progress"}},
    "color": {"field": "s", "type": "nominal", "scale": {"domain": ["Sarsa", "Binary", "Ranking", "Scaling", "State value"], "range": ["steelblue", "red", "green", "orange", "darkviolet"]}, "legend": {"title": null, "orient": "none", "legendX": 179, "legendY": 93}},
    "strokeDash": {"field": "s", "type": "nominal", "scale": {"domain": ["Sarsa", "Binary", "Ranking", "Scaling", "State value"], "range": [[1, 0], [9.6, 2.4, 1.5, 2.4], [1.5, 2.5], [5.5, 2.4], [1, 0]]}, "legend": {"title": null, "orient": "none", "legendX": 179, "legendY": 93}}
   }},
  {"data": {"name": "eb"},
   "mark": {"type": "rule", "strokeWidth": 2, "clip": true},
   "encoding": {
    "x": {"field": "x", "type": "quantitative"},
    "y": {"field": "lo", "type": "quantitative"},
    "y2": {"field": "hi"},
    "color": {"field": "s", "type": "nominal", "legend": null}
   }}
 ]
},
{
 "width": 410, "height": 298,
 "title": "5*5 wall grid-world (0% noise)",
 "layer": [
  {"data": {"name": "c"},
   "mark": {"type": "line", "strokeWidth": 1.5, "clip": true},
   "encoding": {
    "x": {"field": "x", "type": "quantitative", "scale": {"domain": [0, 1000], "nice": false, "zero": false}, "axis": {"values": [0, 200, 400, 600, 800, 1000], "format": "d", "title": "Episodes"}},
    "y": {"field": "y", "type": "quantitative", "scale": {"domain": [-0.4, 107.2], "nice": false, "zero": false}, "axis": {"values": [0, 20, 40, 60, 80, 100], "title": "Learning progress"}},
    "color": {"field": "s", "type": "nominal", "scale": {"domain": ["Sarsa", "Binary", "Ranking", "Scaling", "State value"], "range": ["steelblue", "red", "green", "orange", "darkviolet"]}, "legend": {"title": null, "orient": "none", "legendX": 178, "legendY": 94}},
    "strokeDash": {"field": "s", "type": "nominal", "scale": {"domain": ["Sarsa", "Binary", "Ranking", "Scaling", "State value"], "range": [[1, 0], [9.6, 2.4, 1.5, 2.4], [1.5, 2.5], [5.5, 2.4], [1, 0]]}, "legend": {"title": null, "orient": "none", "legendX": 178, "legendY": 94}}
   }},
  {"data": {"name": "ec"},
   "mark": {"type": "rule", "strokeWidth": 2, "clip": true},
   "encoding": {
    "x": {"field": "x", "type": "quantitative"},
    "y": {"field": "lo", "type": "quantitative"},
    "y2": {"field": "hi"},
    "color": {"field": "s", "type": "nominal", "legend": null}
   }}
 ]
},
{
 "width": 403, "height": 298,
 "title": "10*10 wall grid-world (0% noise)",
 "layer": [
  {"data": {"name": "d"},
   "mark": {"type": "line", "strokeWidth": 1.5, "clip": true},
   "encoding": {
    "x": {"field": "x", "type": "quantitative", "scale": {"domain": [0, 10000], "nice": false, "zero": false}, "axis": {"values": [0, 2000, 4000, 6000, 8000, 10000], "format": "d", "title": "Episodes"}},
    "y": {"field": "y", "type": "quantitative", "scale": {"domain": [-4.1, 106.3], "nice": false, "zero": false}, "axis": {"values": [0, 20, 40, 60, 80, 100], "title": "Learning progress"}},
    "color": {"field": "s", "type": "nominal", "scale": {"domain": ["Sarsa", "Binary", "Ranking", "Scaling", "State value"], "range": ["steelblue", "red", "green", "orange", "darkviolet"]}, "legend": {"title": null, "orient": "none", "legendX": 170, "legendY": 94}},
    "strokeDash": {"field": "s", "type": "nominal", "scale": {"domain": ["Sarsa", "Binary", "Ranking", "Scaling", "State value"], "range": [[1, 0], [9.6, 2.4, 1.5, 2.4], [1.5, 2.5], [5.5, 2.4], [1, 0]]}, "legend": {"title": null, "orient": "none", "legendX": 170, "legendY": 94}}
   }},
  {"data": {"name": "ed"},
   "mark": {"type": "rule", "strokeWidth": 2, "clip": true},
   "encoding": {
    "x": {"field": "x", "type": "quantitative"},
    "y": {"field": "lo", "type": "quantitative"},
    "y2": {"field": "hi"},
    "color": {"field": "s", "type": "nominal", "legend": null}
   }}
 ]
}
]
}
